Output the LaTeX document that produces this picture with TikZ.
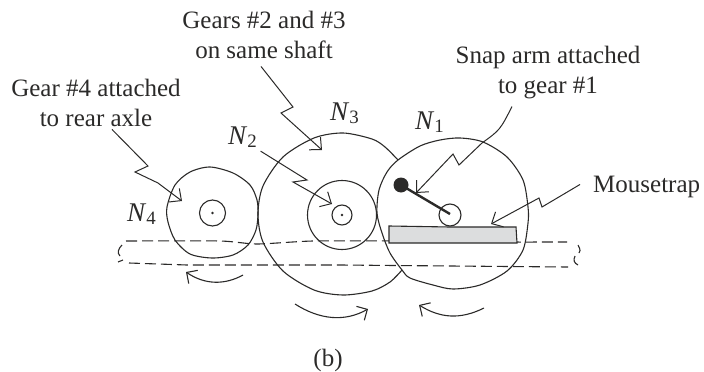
\documentclass[tikz,border=0pt]{standalone}
\usepackage{fontspec}
\setmainfont{Liberation Serif}
\usetikzlibrary{arrows.meta}
\definecolor{trapgray}{HTML}{DCDDDE}
\definecolor{inkgray}{HTML}{2B2A29}
\tikzset{
  gearline/.style={line width=1.1pt,draw=inkgray},
  belt/.style={gearline,dash pattern=on 11pt off 5pt},
  leader/.style={line width=1pt,draw=inkgray,line join=miter,
    -{Straight Barb[length=9pt,width=17pt,line width=1pt]}},
  turn/.style={gearline,
    -{Straight Barb[length=8pt,width=16pt,line width=1.1pt]}},
  caption/.style={inner sep=0pt,text=inkgray,align=center,
    font=\fontsize{25}{29.5}\selectfont},
  gearname/.style={inner sep=0pt,text=inkgray,anchor=base west,
    font=\fontsize{27}{30}\selectfont}
}
\begin{document}
\begin{tikzpicture}[x=1pt,y=-1pt]
  \useasboundingbox (0,0) rectangle (704,372);
  % belt behind everything
  \draw[belt] plot[smooth,tension=0.4] coordinates {(126,241) (220,241) (257,244) (313,241) (400,241) (500,242) (567,242)};
  \draw[belt] (129,263) -- (187,265) -- (340,265) -- (450,266) -- (568,267);
  \draw[gearline] (122,245) .. controls (118,249) and (117,253) .. (120,256);
  \draw[gearline] (118,262) -- (123,260);
  \draw[gearline] (578,245) .. controls (581,250) and (580,252) .. (579,253);
  \draw[gearline] (575,256) .. controls (573,260) and (574,263) .. (578,265);
  % gears
  \draw[gearline] plot[smooth cycle] coordinates {(210,167) (233,173) (250,185) (257,200) (258,214) (256,230) (248,245) (233,255) (212,258) (190,254) (175,240) (168,222) (167,207) (175,185) (190,172)};
  \draw[gearline] plot[smooth] coordinates {(398,160) (385,147) (372,139) (343,133) (314,138) (283,157) (263,186) (258,214) (263,242) (283,271) (314,290) (343,295) (372,291) (390,282) (402,270)};
  \draw[gearline] plot[smooth cycle] coordinates {(460,138) (483,142) (507,157) (523,180) (528,207) (528,223) (523,250) (507,271) (480,285) (453,289) (433,285) (410,278) (402,270) (390,253) (382,233) (377,213) (379,190) (387,172) (398,160) (420,146) (440,140)};
  \draw[gearline] (342,215) circle (34.5);
  \foreach \x/\y/\r in {212.5/213/13,342/215/10} {
    \draw[gearline] (\x,\y) circle (\r);
    \fill[inkgray] (\x,\y) circle (1.4);
  }
  % snap arm and trap
  \draw[gearline,fill=trapgray] (389,226) -- (450,227) -- (516,227) -- (517,243) -- (389,243) -- cycle;
  \draw[gearline,fill=white] (450,215) circle (11);
  \fill[inkgray] (401,185) circle (7.5);
  \draw[inkgray,line width=2.4pt] (401,185) -- (450,214);
  % labels
  \node[caption,anchor=base] (gearsthreelabel) at (264,58) {Gears \#2 and \#3\\on same shaft};
  \node[caption,anchor=base] (gearfourlabel) at (96,126) {Gear \#4 attached\\to rear axle};
  \node[caption,anchor=base] (snaplabel) at (548,93) {Snap arm attached\\to gear \#1};
  \node[caption,anchor=base west] (traplabel) at (593,192) {Mousetrap};
  \node[caption,anchor=base] (partlabel) at (328,366) {(b)};
  \node[gearname] (nameone) at (415,129) {\textit{N}\textsubscript{1}};
  \node[gearname] (nametwo) at (228,144) {\textit{N}\textsubscript{2}};
  \node[gearname] (namethree) at (330,120) {\textit{N}\textsubscript{3}};
  \node[gearname] (namefour) at (127,221) {\textit{N}\textsubscript{4}};
  % leaders
  \coordinate (gearfourface) at (182,201);
  \coordinate (gearthreeface) at (322,150);
  \coordinate (geartwoface) at (332,204);
  \coordinate (armend) at (416,193);
  \coordinate (trapend) at (491,224);
  \draw[leader] ([shift={(16,3)}]gearfourlabel.south) -- (148,166) -- (135,172) -- (158,183) -- (gearfourface);
  \draw[leader] ([shift={(-3,8)}]gearsthreelabel.south) -- (293,107) -- (281,113) -- (gearthreeface);
  \draw[leader] ([shift={(3,3)}]nametwo.south east) -- (307,180) -- (293,182) -- (geartwoface);
  \draw[leader] ([shift={(-36,8)}]snaplabel.south) .. controls (500,130) .. (482,143) -- (459,165) -- (453,154) -- (armend);
  \draw[leader] ([shift={(-13,-2)}]traplabel.west) -- (542,207) -- (539,198) -- (trapend);
  % rotation arrows
  \draw[turn] (243,275) .. controls (225,285) and (205,285) .. (186,272);
  \draw[turn] (295,304) .. controls (320,320) and (345,322) .. (368,309);
  \draw[turn] (484,308) .. controls (460,320) and (440,318) .. (419,305);
\end{tikzpicture}
\end{document}
